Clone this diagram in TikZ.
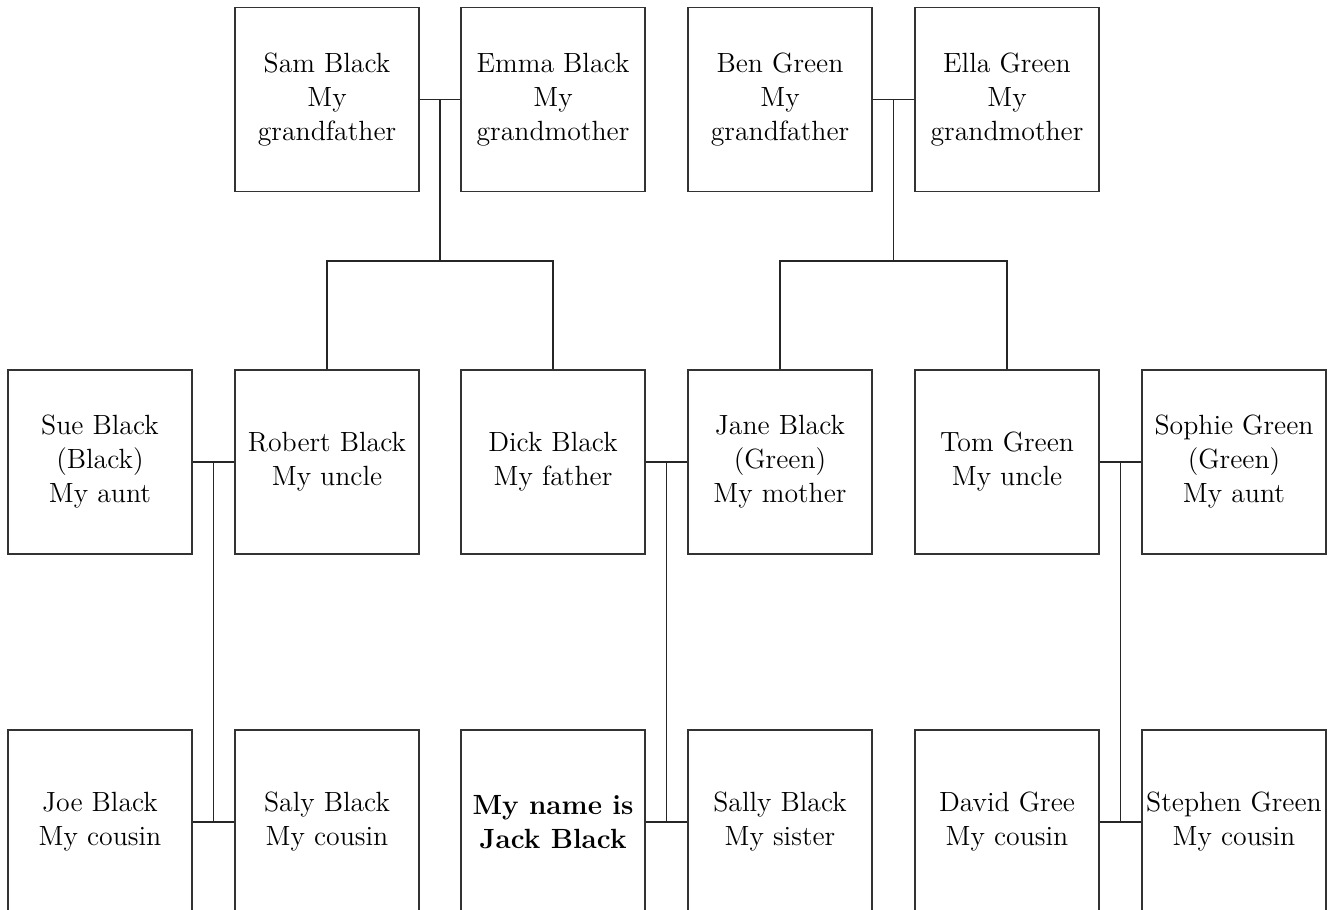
\documentclass[tikz,border=0pt]{standalone}
\usetikzlibrary{calc}

\begin{document}
\begin{tikzpicture}[
        x=0.5pt, y=-0.5pt,
        font=\fontsize{13.9}{17}\selectfont,
        person/.style={draw=black!80, line width=0.6pt, minimum width=92pt, minimum height=92pt,
                       inner sep=0pt, align=center},
        me/.style={person, font=\fontsize{13.9}{17}\selectfont\bfseries},
        link/.style={line width=0.6pt, draw=black!85}
    ]
    \useasboundingbox (0,0) rectangle (1333,910);
    \clip (0,0) rectangle (1333,910);
    % grandparents
    \node[person] (sam)    at (327,99.5)  {Sam Black\\My\\grandfather};
    \node[person] (emma)   at (553,99.5)  {Emma Black\\My\\grandmother};
    \node[person] (ben)    at (780,99.5)  {Ben Green\\My\\grandfather};
    \node[person] (ella)   at (1007,99.5) {Ella Green\\My\\grandmother};
    % parents, uncles and aunts
    \node[person] (sue)    at (100,462)  {Sue Black\\(Black)\\My aunt};
    \node[person] (robert) at (327,462)  {Robert Black\\My uncle};
    \node[person] (dick)   at (553,462)  {Dick Black\\My father};
    \node[person] (jane)   at (780,462)  {Jane Black\\(Green)\\My mother};
    \node[person] (tom)    at (1007,462) {Tom Green\\My uncle};
    \node[person] (sophie) at (1234,462) {Sophie Green\\(Green)\\My aunt};
    % children
    \node[person] (joe)     at (100,822)  {Joe Black\\My cousin};
    \node[person] (saly)    at (327,822)  {Saly Black\\My cousin};
    \node[me]     (jack)    at (553,822)  {My name is\\Jack Black};
    \node[person] (sally)   at (780,822)  {Sally Black\\My sister};
    \node[person] (david)   at (1007,822) {David Gree\\My cousin};
    \node[person] (stephen) at (1234,822) {Stephen Green\\My cousin};
    % couples
    \coordinate (blackpair) at ($(sam.east)!0.5!(emma.west)$);
    \coordinate (greenpair) at ($(ben.east)!0.5!(ella.west)$);
    \coordinate (suepair)   at ($(sue.east)!0.5!(robert.west)$);
    \coordinate (dickpair)  at ($(dick.east)!0.5!(jane.west)$);
    \coordinate (tompair)   at ($(tom.east)!0.5!(sophie.west)$);
    \coordinate (blackkids) at ($(blackpair)+(0,161.5)$);
    \coordinate (greenkids) at ($(greenpair)+(0,161.5)$);
    \coordinate (suekids)   at ($(joe.east)!0.5!(saly.west)$);
    \coordinate (dickkids)  at ($(jack.east)!0.5!(sally.west)$);
    \coordinate (tomkids)   at ($(david.east)!0.5!(stephen.west)$);
    \draw[link] (sam.east) -- (emma.west);
    \draw[link] (ben.east) -- (ella.west);
    \draw[link] (sue.east) -- (robert.west);
    \draw[link] (dick.east) -- (jane.west);
    \draw[link] (tom.east) -- (sophie.west);
    \draw[link] (joe.east) -- (saly.west);
    \draw[link] (jack.east) -- (sally.west);
    \draw[link] (david.east) -- (stephen.west);
    % descent
    \draw[link] (blackpair) -- (blackkids);
    \draw[link] (robert.north) |- (blackkids) -| (dick.north);
    \draw[link] (greenpair) -- (greenkids);
    \draw[link] (jane.north) |- (greenkids) -| (tom.north);
    \draw[link] (suepair) -- (suekids);
    \draw[link] (dickpair) -- (dickkids);
    \draw[link] (tompair) -- (tomkids);
\end{tikzpicture}
\end{document}
